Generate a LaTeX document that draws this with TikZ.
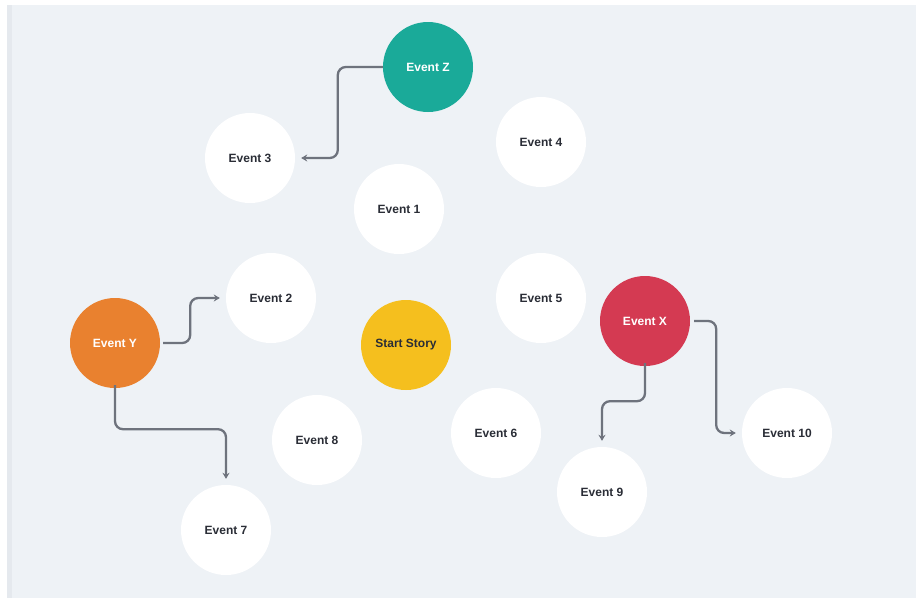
\documentclass[tikz,border=0pt]{standalone}
\usepackage{fontspec}
\setmainfont{Liberation Sans}
\usetikzlibrary{arrows.meta}
\definecolor{bgpanel}{HTML}{EEF2F6}
\definecolor{bgband}{HTML}{E5E9EE}
\definecolor{tealc}{HTML}{1AAA99}
\definecolor{orangec}{HTML}{E9812F}
\definecolor{redc}{HTML}{D43A52}
\definecolor{yellowc}{HTML}{F5BF1E}
\definecolor{inkc}{HTML}{2A2D36}
\definecolor{linkc}{HTML}{6E737D}
\tikzset{
  event/.style={circle, minimum size=90pt, inner sep=0pt, fill=white,
    text=inkc, font=\fontsize{12}{14}\selectfont\bfseries},
  keyevent/.style={event, fill=#1, text=white},
  link/.style={draw=linkc, line width=2.3pt, rounded corners=8pt,
    -{Stealth[length=6pt,width=7pt]}, shorten >=6pt},
}
\begin{document}
\begin{tikzpicture}[x=1pt,y=-1pt]
  % canvas and panel
  \fill[white] (0,0) rectangle (916,598);
  \useasboundingbox (0,0) rectangle (916,598);
  \fill[bgpanel] (7,5) rectangle (916,598);
  \fill[bgband] (7,5) rectangle (12,598);

  % events
  \node[keyevent=tealc]   (ez) at (428,67)  {Event Z};
  \node[event]            (e3) at (250,158) {Event 3};
  \node[event]            (e4) at (541,142) {Event 4};
  \node[event]            (e1) at (399,209) {Event 1};
  \node[event]            (e2) at (271,298) {Event 2};
  \node[event]            (e5) at (541,298) {Event 5};
  \node[keyevent=orangec] (ey) at (115,343) {Event Y};
  \node[keyevent=yellowc, text=inkc] (st) at (406,345) {Start Story};
  \node[keyevent=redc]    (ex) at (645,321) {Event X};
  \node[event]            (e8) at (317,440) {Event 8};
  \node[event]            (e6) at (496,433) {Event 6};
  \node[event]            (e10) at (787,433) {Event 10};
  \node[event]            (e9) at (602,492) {Event 9};
  \node[event]            (e7) at (226,530) {Event 7};

  % branches
  \draw[link] (ez.west) -- ++(-45,0) |- (e3.east);
  \draw[link] ([xshift=3pt]ey.east) -- ++(27,0) |- (e2.west);
  \draw[link] ([yshift=3pt]ey.south) -- ++(0,44) -| (e7.north);
  \draw[link] ([yshift=3pt]ex.south) -- ++(0,38) -| (e9.north);
  \draw[link] ([xshift=4pt]ex.east) -- ++(22,0) |- (e10.west);
\end{tikzpicture}
\end{document}
